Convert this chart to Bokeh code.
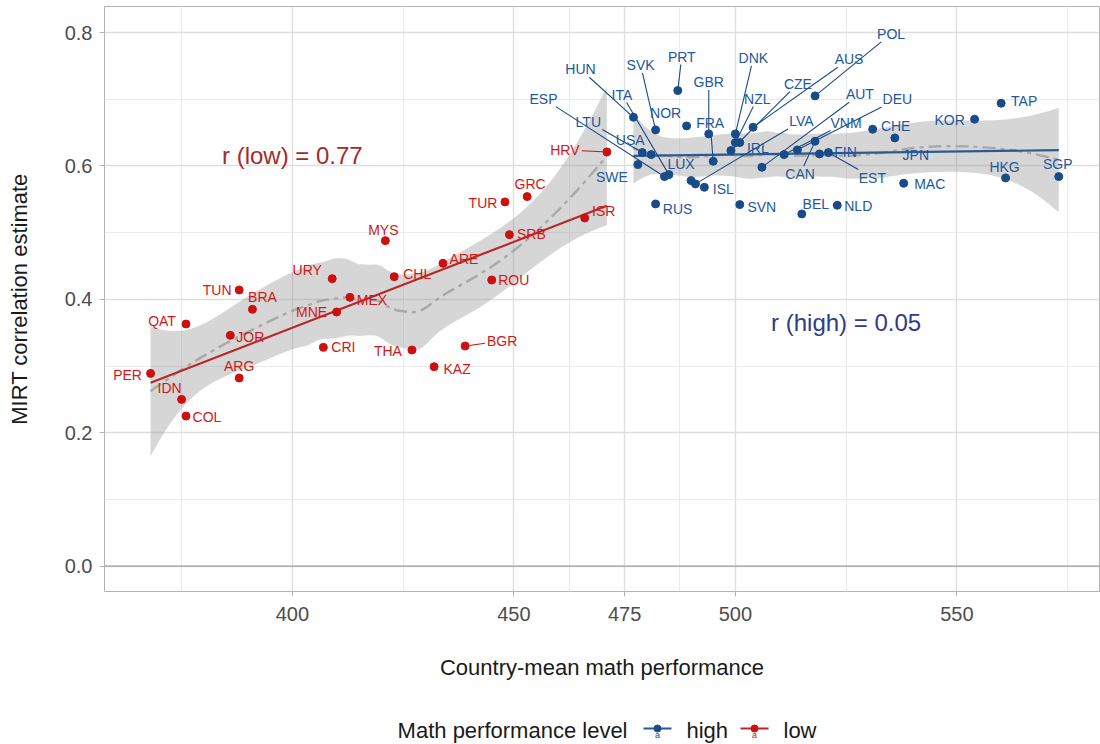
import numpy as np
from bokeh.plotting import figure
from bokeh.layouts import column
from bokeh.models import Range1d, FixedTicker, Span, PrintfTickFormatter
from bokeh.embed import file_html
from bokeh.resources import INLINE
from bokeh.core.properties import value

# ---------------- data ----------------
low_countries = ["PER", "IDN", "COL", "QAT", "JOR", "ARG", "TUN", "BRA", "URY", "MEX", "MNE", "CRI",
                 "MYS", "CHL", "THA", "ARE", "ROU", "SRB", "TUR", "GRC", "ISR", "HRV", "BGR", "KAZ"]
low_math = [368, 375, 376, 376, 386, 388, 388, 391, 409, 413, 410, 407,
            421, 423, 427, 434, 445, 449, 448, 453, 466, 471, 439, 432]
low_mirt = [0.289, 0.250, 0.225, 0.363, 0.346, 0.282, 0.414, 0.385, 0.431, 0.403, 0.381, 0.328,
            0.488, 0.434, 0.324, 0.454, 0.429, 0.497, 0.546, 0.554, 0.522, 0.621, 0.330, 0.299]

high_countries = ["HUN", "SWE", "LTU", "USA", "SVK", "RUS", "ESP", "ITA", "PRT", "NOR", "LUX", "LVA",
                  "ISL", "GBR", "FRA", "CZE", "NZL", "DNK", "SVN", "IRL", "AUS", "AUT", "VNM", "DEU",
                  "BEL", "POL", "CAN", "FIN", "EST", "NLD", "CHE", "JPN", "MAC", "KOR", "TAP", "HKG", "SGP"]
high_math = [477, 478, 479, 481, 482, 482, 484, 485, 487, 489, 490, 491,
             493, 494, 495, 499, 500, 500, 501, 501, 504, 506, 511, 514,
             515, 518, 518, 519, 521, 523, 531, 536, 538, 554, 560, 561, 573]
high_mirt = [0.673, 0.602, 0.620, 0.617, 0.654, 0.543, 0.584, 0.587, 0.713, 0.660, 0.578, 0.573,
             0.568, 0.648, 0.607, 0.623, 0.635, 0.648, 0.542, 0.635, 0.658, 0.598, 0.617, 0.624,
             0.528, 0.705, 0.637, 0.618, 0.620, 0.541, 0.655, 0.642, 0.574, 0.670, 0.694, 0.582, 0.584]

x_ticks = [400, 450, 475, 500, 550]
x_minor = [375, 425, 462.5, 487.5, 525, 575]
y_ticks = [0.0, 0.2, 0.4, 0.6, 0.8]
y_minor = [0.1, 0.3, 0.5, 0.7]

r_low_text = "r (low) = 0.77"
r_high_text = "r (high) = 0.05"
legend_title = "Math performance level"
legend_labels = ["high", "low"]

# label offsets in screen pixels (dx right, dy up) -- layout only
label_offsets = {
    "PER": (-23, -2), "IDN": (-12, 11), "COL": (21, -1), "QAT": (-24, 3), "JOR": (20, -2),
    "ARG": (0, 12), "TUN": (-22, 0), "BRA": (10, 12), "URY": (-25, 9), "MEX": (22, -3),
    "MNE": (-25, 0), "CRI": (20, 0), "MYS": (-2, 11), "CHL": (23, 3), "THA": (-24, -1),
    "ARE": (21, 4), "ROU": (22, 0), "SRB": (22, 1), "TUR": (-22, -1), "GRC": (3, 13),
    "ISR": (19, 7), "HRV": (-42, 2), "BGR": (37, 5), "KAZ": (23, -2),
    "ESP": (-121, 78), "HUN": (-53, 48), "SVK": (-15, 65), "PRT": (4, 34), "ITA": (-47, 80),
    "LTU": (-54, 31), "NOR": (-21, 13), "USA": (-21, 15), "SWE": (-26, -12), "LUX": (-10, 17),
    "RUS": (22, -5), "ISL": (19, -2), "SVN": (22, -2), "FRA": (-3, 38), "GBR": (0, 52),
    "DNK": (18, 76), "NZL": (22, 44), "CZE": (67, 67), "IRL": (18, -5), "LVA": (106, 63),
    "CAN": (-15, -33), "VNM": (62, 32), "AUT": (98, 73), "DEU": (100, 51), "AUS": (96, 68),
    "POL": (76, 62), "FIN": (26, 2), "EST": (44, -25), "JPN": (21, -17), "CHE": (23, 3),
    "MAC": (26, -1), "NLD": (21, -1), "BEL": (14, 10), "KOR": (-25, -1), "TAP": (23, 2),
    "HKG": (-1, 11), "SGP": (-1, 13),
}

# ---------------- layout ----------------
W = 1100
H_MAIN, H_LEG = 704, 40
L_B, R_B, T_B, B_B = 104, 1, 6, 113
X0, X1 = 357.6, 582.2
Y0, Y1 = -0.038, 0.839
frame_w = W - L_B - R_B
frame_h = H_MAIN - T_B - B_B
px_x = frame_w / (X1 - X0)
px_y = frame_h / (Y1 - Y0)

HIGH_PT = "#184b88"
HIGH_TX = "#22589a"
HIGH_LINE = "#2a5a94"
LOW_PT = "#cc1010"
LOW_TX = "#d01818"
LOW_LINE = "#b82828"
FONT = "Liberation Sans"


def tq975(df):
    z = 1.959963985
    return (z + (z**3 + z) / (4 * df) + (5 * z**5 + 16 * z**3 + 3 * z) / (96 * df**2)
            + (3 * z**7 + 19 * z**5 + 17 * z**3 - 15 * z) / (384 * df**3))


def loess(x, y, span=0.75, ngrid=80):
    x = np.asarray(x, float)
    y = np.asarray(y, float)
    n = len(x)
    q = int(np.floor(n * span))

    def row(x0):
        d = np.abs(x - x0)
        h = np.sort(d)[q - 1]
        u = np.clip(d / h, 0, 1)
        w = (1 - u**3)**3
        X = np.column_stack([np.ones(n), x - x0, (x - x0)**2])
        XtW = X.T * w
        return np.linalg.solve(XtW @ X, XtW)[0]

    Lm = np.array([row(v) for v in x])
    resid = y - Lm @ y
    M = np.eye(n) - Lm
    MM = M.T @ M
    d1 = np.trace(MM)
    d2 = np.trace(MM @ MM)
    sigma = np.sqrt(np.sum(resid**2) / d1)
    t = tq975(d1**2 / d2)
    grid = np.linspace(x.min(), x.max(), ngrid)
    G = np.array([row(v) for v in grid])
    fit = G @ y
    se = sigma * np.sqrt(np.sum(G**2, axis=1))
    return grid, fit, fit - t * se, fit + t * se


p = figure(width=W, height=H_MAIN, output_backend="svg", toolbar_location=None,
           x_range=Range1d(X0, X1), y_range=Range1d(Y0, Y1),
           min_border_left=L_B, min_border_right=R_B, min_border_top=T_B, min_border_bottom=B_B,
           background_fill_color="white", border_fill_color="white")
p.outline_line_color = "#b3b3b3"
p.outline_line_width = 1

p.xaxis.ticker = FixedTicker(ticks=x_ticks, minor_ticks=x_minor)
p.yaxis.ticker = FixedTicker(ticks=y_ticks, minor_ticks=y_minor)
p.yaxis.formatter = PrintfTickFormatter(format="%.1f")
for g in (p.xgrid[0], p.ygrid[0]):
    g.grid_line_color = "#dedede"
    g.grid_line_width = 1.4
    g.minor_grid_line_color = "#ebebeb"
    g.minor_grid_line_width = 1

for ax in (p.xaxis[0], p.yaxis[0]):
    ax.axis_line_color = None
    ax.major_tick_line_color = "#b3b3b3"
    ax.major_tick_in = 0
    ax.major_tick_out = 5
    ax.minor_tick_line_color = None
    ax.major_label_text_color = "#4d4d4d"
    ax.major_label_text_font = FONT
    ax.major_label_text_font_size = "20px"
    ax.major_label_standoff = 7
    ax.axis_label_text_font = FONT
    ax.axis_label_text_font_style = "normal"
    ax.axis_label_text_color = "#1a1a1a"
    ax.axis_label_text_font_size = "22px"
p.xaxis.major_label_standoff = 10
p.xaxis.axis_label = "Country-mean math performance"
p.yaxis.axis_label = "MIRT correlation estimate"
p.xaxis.axis_label_standoff = 31
p.yaxis.axis_label_standoff = 30

p.add_layout(Span(location=0, dimension="width", line_color="#b5b5b5", line_width=1.6))

groups = [
    (low_countries, low_math, low_mirt, LOW_PT, LOW_TX, LOW_LINE),
    (high_countries, high_math, high_mirt, HIGH_PT, HIGH_TX, HIGH_LINE),
]

# ribbons + loess lines
for names, xs, ys, cpt, ctx, cl in groups:
    gx, fit, lo, hi = loess(xs, ys)
    p.varea(x=gx, y1=lo, y2=hi, fill_color="#999999", fill_alpha=0.4)
    p.line(gx, fit, line_color="#a9a9a9", line_width=2.4, line_dash="13 5 4 5")

# linear fits
for names, xs, ys, cpt, ctx, cl in groups:
    b, a = np.polyfit(xs, ys, 1)
    xe = np.array([min(xs), max(xs)])
    p.line(xe, a + b * xe, line_color=cl, line_width=2.2)

# segments, points, labels
for names, xs, ys, cpt, ctx, cl in groups:
    lx, ly, sx0, sy0, sx1, sy1 = [], [], [], [], [], []
    for n, x, y in zip(names, xs, ys):
        dx, dy = label_offsets[n]
        lx.append(x + dx / px_x)
        ly.append(y + dy / px_y)
        dist = np.hypot(dx, dy)
        if dist > 30:
            hw, hh = 17.0, 8.0
            t = min(hw / abs(dx) if dx else 1e9, hh / abs(dy) if dy else 1e9)
            ex, ey = dx * (1 - t), dy * (1 - t)
            sx0.append(x + 4 * dx / dist / px_x)
            sy0.append(y + 4 * dy / dist / px_y)
            sx1.append(x + ex / px_x)
            sy1.append(y + ey / px_y)
    if sx0:
        p.segment(x0=sx0, y0=sy0, x1=sx1, y1=sy1, line_color=cpt, line_width=1.1)
    p.scatter(xs, ys, size=8, fill_color=cpt, line_color=cpt)
    p.text(x=lx, y=ly, text=names, text_align="center", text_baseline="middle",
           text_font=value(FONT), text_font_size=value("14px"), text_color=ctx)

p.text(x=[400], y=[0.615], text=[r_low_text], text_align="center", text_baseline="middle",
       text_font=value(FONT), text_font_size=value("24px"), text_color="#a52a2a")
p.text(x=[525], y=[0.365], text=[r_high_text], text_align="center", text_baseline="middle",
       text_font=value(FONT), text_font_size=value("24px"), text_color="#2f3b8c")

# ---------------- legend strip (pixel coordinates, frame aligned with main plot) ----------------
leg = figure(width=W, height=H_LEG, output_backend="svg", toolbar_location=None,
             x_range=Range1d(L_B, W - R_B), y_range=Range1d(0, H_LEG),
             x_axis_location=None, y_axis_location=None,
             min_border_left=L_B, min_border_right=R_B, min_border_top=0, min_border_bottom=0,
             background_fill_color="white", border_fill_color="white")
leg.outline_line_color = None
leg.grid.visible = False
ly0 = 14
leg.text(x=[627], y=[ly0], text=[legend_title], text_align="right", text_baseline="middle",
         text_font=value(FONT), text_font_size=value("22px"), text_color="#1a1a1a")
key_x = [643, 740]
for kx, lab, cpt, cl in zip(key_x, legend_labels, [HIGH_PT, LOW_PT], [HIGH_LINE, LOW_LINE]):
    leg.segment(x0=[kx], y0=[ly0 + 2], x1=[kx + 28], y1=[ly0 + 2], line_color=cl, line_width=2.2)
    leg.scatter([kx + 14], [ly0 + 2], size=7, fill_color=cpt, line_color=cpt)
    leg.text(x=[kx + 14], y=[ly0 - 4], text=["a"], text_align="center", text_baseline="middle",
             text_font=value(FONT), text_font_size=value("9px"), text_color=cpt)
    leg.text(x=[kx + 43], y=[ly0], text=[lab], text_align="left", text_baseline="middle",
             text_font=value(FONT), text_font_size=value("22px"), text_color="#1a1a1a")

layout = column(p, leg, spacing=0)
open("out.html", "w").write(file_html(layout, INLINE))
